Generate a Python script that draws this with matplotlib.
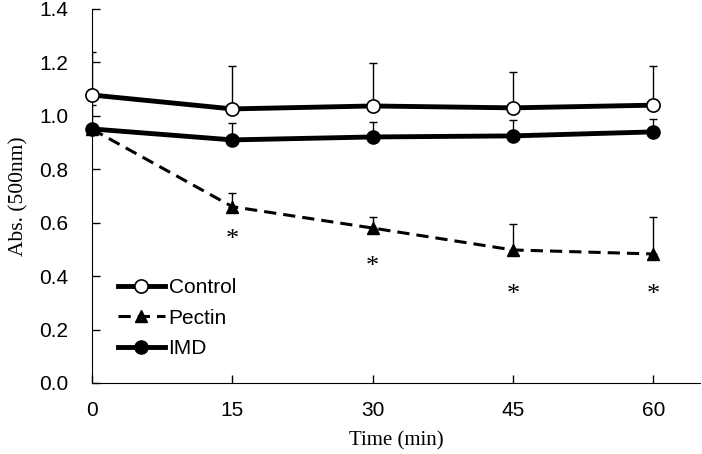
import numpy as np
import matplotlib.pyplot as plt

time = [0, 15, 30, 45, 60]
control = [1.078, 1.026, 1.037, 1.030, 1.040]
control_err = [0.16, 0.16, 0.16, 0.135, 0.147]
pectin = [0.95, 0.66, 0.58, 0.498, 0.483]
pectin_err = [0.0, 0.05, 0.04, 0.097, 0.138]
imd = [0.951, 0.910, 0.921, 0.925, 0.940]
imd_err = [0.09, 0.063, 0.056, 0.06, 0.05]
star_x = [15, 30, 45, 60]
star_y = [0.535, 0.434, 0.33, 0.33]

sans = ['Liberation Sans', 'DejaVu Sans']
serif = ['Liberation Serif', 'DejaVu Serif']

fig = plt.figure(figsize=(7.02, 4.54), dpi=100)
ax = fig.add_axes([92/702, 71/454, 608/702, 374/454])

zero = [0]*5
for vals, err in [(control, control_err), (pectin, pectin_err), (imd, imd_err)]:
    ax.errorbar(time, vals, yerr=[zero, err], fmt='none', ecolor='black',
                elinewidth=1, capsize=3, capthick=1, zorder=1)

ax.plot(time, control, '-', color='black', lw=3.5, marker='o', ms=9.5,
        mfc='white', mec='black', mew=1.2, label='Control', zorder=3, clip_on=False)
ax.plot(time, pectin, '--', color='black', lw=2.2, dashes=(4, 2.3), marker='^', ms=8,
        mfc='black', mec='black', label='Pectin', zorder=3, clip_on=False)
ax.plot(time, imd, '-', color='black', lw=3.5, marker='o', ms=9.5,
        mfc='black', mec='black', label='IMD', zorder=3, clip_on=False)

for x, y in zip(star_x, star_y):
    ax.text(x, y, '*', ha='center', va='center', fontsize=19, family=serif)

ax.set_xlim(0, 65)
ax.set_ylim(0, 1.4)
ax.set_xticks(time)
yt = np.arange(0, 1.41, 0.2)
ax.set_yticks(yt)
ax.set_yticklabels(['%.1f' % v for v in yt], family=sans, fontsize=15)
ax.set_xticklabels([str(t) for t in time], family=sans, fontsize=15)
ax.tick_params(direction='in', length=6, width=1)
ax.tick_params(axis='y', pad=17)
ax.tick_params(axis='x', pad=13)
ax.spines['top'].set_visible(False)
ax.spines['right'].set_visible(False)
ax.set_xlabel('Time (min)', family=serif, fontsize=15, labelpad=8)
ax.set_ylabel('Abs. (500nm)', family=serif, fontsize=15.5, labelpad=8)

leg = ax.legend(loc='upper left', bbox_to_anchor=(0.042, 0.28), frameon=False,
                prop={'family': sans, 'size': 15}, handlelength=2.3, handletextpad=0.15,
                labelspacing=0.55, borderpad=0, borderaxespad=0)

fig.savefig('out.png', dpi=100)
